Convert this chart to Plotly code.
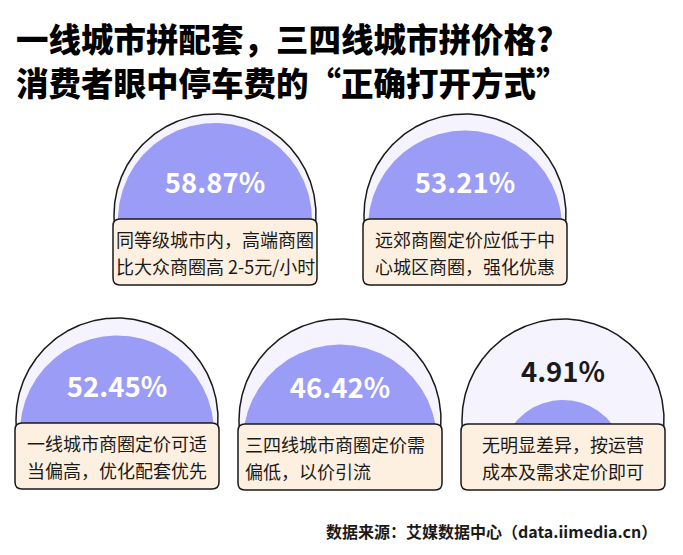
import numpy as np
import plotly.graph_objects as go

# data
values = [58.87, 53.21, 52.45, 46.42, 4.91]
line1 = ["同等级城市内，高端商圈", "远郊商圈定价应低于中", "一线城市商圈定价可适",
         "三四线城市商圈定价需", "无明显差异，按运营"]
line2 = ["比大众商圈高 2-5元/小时", "心城区商圈，强化优惠", "当偏高，优化配套优先",
         "偏低，以价引流", "成本及需求定价即可"]
left_aligned = [False, False, False, True, False]
title1 = "一线城市拼配套，三四线城市拼价格?"
title2 = "消费者眼中停车费的“正确打开方式”"
source = "数据来源：艾媒数据中心（data.iimedia.cn）"

# layout (pixel units, y grows downward)
centers = [(215, 215), (465, 215), (117, 419), (340, 420), (563, 420)]
R = 101
BOX_W, BOX_H = 204, 66

FONT = "Noto Sans CJK SC"
PURPLE = "#9b9cf6"
LAVENDER = "#f5f3fd"
CREAM = "#fdf0e0"
INK = "#1a1a1a"


def rounded_rect(x0, y0, x1, y1, r):
    return (f"M{x0+r},{y0} L{x1-r},{y0} Q{x1},{y0} {x1},{y0+r} "
            f"L{x1},{y1-r} Q{x1},{y1} {x1-r},{y1} L{x0+r},{y1} "
            f"Q{x0},{y1} {x0},{y1-r} L{x0},{y0+r} Q{x0},{y0} {x0+r},{y0} Z")


fig = go.Figure()
shapes = []
annotations = []

for i, v in enumerate(values):
    cx, cy = centers[i]
    ycut = cy + 6

    # outer half disc
    t = np.linspace(np.radians(-4), np.radians(184), 200)
    ox = cx + R * np.cos(t)
    oy = cy - R * np.sin(t)
    fig.add_trace(go.Scatter(x=ox, y=oy, fill="toself", fillcolor=LAVENDER,
                             mode="lines", line=dict(color=INK, width=1.5),
                             hoverinfo="skip", showlegend=False))

    # purple level: top height and radius follow the value
    h = 13.5 + 1.334 * v
    rp = min(97.0, 55 + 1.4 * v)
    pcy = cy - h + rp
    s = np.clip((pcy - ycut) / rp, -1, 1)
    th0 = np.arcsin(s)
    th = np.linspace(th0, np.pi - th0, 200)
    px = cx + rp * np.cos(th)
    py = pcy - rp * np.sin(th)
    d = np.hypot(px - cx, py - cy)
    k = np.where(d > R - 2, (R - 2) / d, 1.0)
    px = cx + (px - cx) * k
    py = cy + (py - cy) * k
    fig.add_trace(go.Scatter(x=px, y=py, fill="toself", fillcolor=PURPLE,
                             mode="lines", line=dict(width=0),
                             hoverinfo="skip", showlegend=False))

    # value text
    ty = cy - 29 if h > 50 else cy - h - 25
    fig.add_trace(go.Scatter(x=[cx], y=[ty], mode="text", text=[f"{v:.2f}%"],
                             textfont=dict(family=FONT, size=27.5, weight="bold",
                                           color="white" if h > 50 else INK),
                             hoverinfo="skip", showlegend=False))

    # label box
    bx0 = cx - BOX_W / 2
    by0 = cy + 4
    shapes.append(dict(type="path", path=rounded_rect(bx0, by0, bx0 + BOX_W, by0 + BOX_H, 7),
                       fillcolor=CREAM, line=dict(color=INK, width=1.5), layer="above"))
    for j, txt in enumerate([line1[i], line2[i]]):
        annotations.append(dict(x=bx0 + 5 if left_aligned[i] else cx,
                                xanchor="left" if left_aligned[i] else "center",
                                y=by0 + BOX_H / 2 + (j - 0.5) * 27, yanchor="middle",
                                text=txt, showarrow=False,
                                font=dict(family=FONT, size=18, color=INK)))

annotations.append(dict(x=14, y=37.5, xanchor="left", yanchor="middle", text=title1,
                        showarrow=False, font=dict(family=FONT, size=32.5, weight=900, color="black")))
annotations.append(dict(x=14, y=81.5, xanchor="left", yanchor="middle", text=title2,
                        showarrow=False, font=dict(family=FONT, size=32.5, weight=900, color="black")))
annotations.append(dict(x=659, y=531, xanchor="right", yanchor="middle", text=source,
                        showarrow=False, font=dict(family=FONT, size=16, weight="bold", color=INK)))

fig.update_layout(
    width=683, height=555,
    margin=dict(l=0, r=0, t=0, b=0),
    paper_bgcolor="white", plot_bgcolor="white",
    xaxis=dict(range=[0, 683], visible=False, fixedrange=True),
    yaxis=dict(range=[555, 0], visible=False, fixedrange=True),
    shapes=shapes, annotations=annotations,
)

fig.write_html("out.html", config={"displayModeBar": False},
               post_script="document.body.style.margin='0px';")
